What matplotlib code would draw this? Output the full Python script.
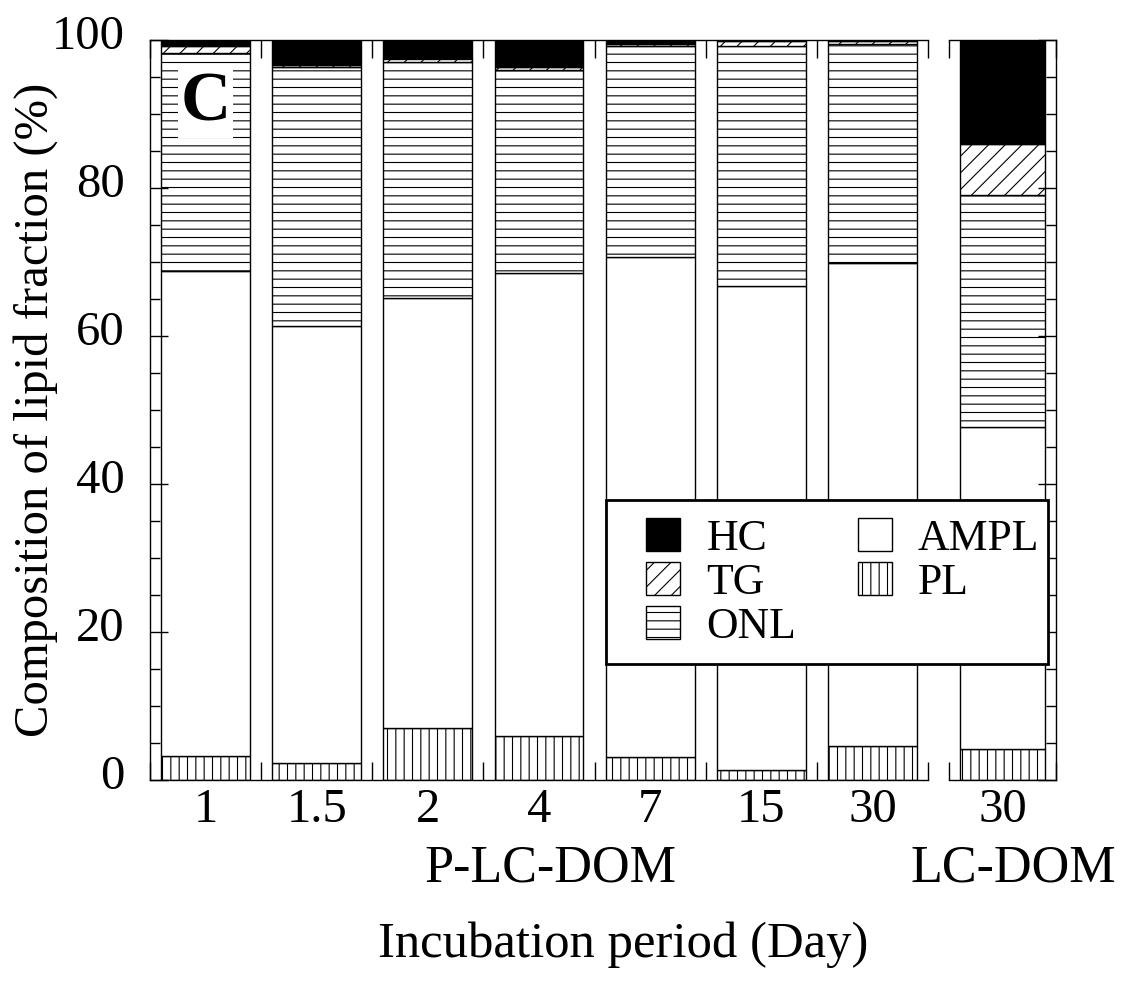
import matplotlib
matplotlib.use("Agg")
import matplotlib.pyplot as plt
import matplotlib.transforms as mtransforms
from matplotlib.patches import Patch, Rectangle
from matplotlib.ticker import MultipleLocator, FixedLocator

# ---------------- data ----------------
days_plc = ["1", "1.5", "2", "4", "7", "15", "30"]
days_lc = ["30"]
series = ["PL", "AMPL", "ONL", "TG", "HC"]
PL   = [3.2, 2.35, 7.0, 6.0, 3.1, 1.3, 4.6, 4.2]
AMPL = [65.6, 59.05, 58.1, 62.5, 67.6, 65.5, 65.3, 43.5]
ONL  = [29.4, 34.9, 31.9, 27.4, 28.45, 32.35, 29.55, 31.4]
TG   = [1.0, 0.3, 0.5, 0.5, 0.25, 0.7, 0.4, 6.9]
HC   = [0.8, 3.4, 2.5, 3.6, 0.6, 0.15, 0.15, 14.0]

plt.rcParams['font.family'] = ['Liberation Serif', 'DejaVu Serif']
plt.rcParams['hatch.color'] = 'black'
plt.rcParams['hatch.linewidth'] = 0.8

styles = {
    "PL":   dict(facecolor="white", hatch="||"),
    "AMPL": dict(facecolor="white", hatch=None),
    "ONL":  dict(facecolor="white", hatch="--"),
    "TG":   dict(facecolor="white", hatch="//"),
    "HC":   dict(facecolor="black", hatch=None),
}
values = {"PL": PL, "AMPL": AMPL, "ONL": ONL, "TG": TG, "HC": HC}

W, H = 1123, 1001
fig = plt.figure(figsize=(W / 100, H / 100), dpi=100)
fig.patch.set_facecolor("white")

def fx(px):
    return px / W

def fy(py):
    return 1 - py / H

ax1 = fig.add_axes([fx(150), fy(780), fx(928) - fx(150), fy(40) - fy(780)])
ax2 = fig.add_axes([fx(949), fy(780), fx(1056) - fx(949), fy(40) - fy(780)])

n1 = len(days_plc)
bw = 0.8

def draw(ax, idxs):
    bottoms = [0.0] * len(idxs)
    xs = list(range(len(idxs)))
    for s in series:
        vals = [values[s][i] for i in idxs]
        ax.bar(xs, vals, bw, bottom=bottoms, edgecolor="black", linewidth=1.0,
               **styles[s])
        bottoms = [b + v for b, v in zip(bottoms, vals)]

draw(ax1, list(range(n1)))
draw(ax2, [n1])

fs = 35
fs_big = 37.5
for ax, labels in ((ax1, days_plc), (ax2, days_lc)):
    ax.set_ylim(0, 100)
    ax.set_xlim(-0.5, len(labels) - 0.5)
    ax.set_xticks(range(len(labels)))
    ax.set_xticklabels(labels, fontsize=fs)
    ax.xaxis.set_minor_locator(FixedLocator([i - 0.5 for i in range(len(labels) + 1)]))
    ax.tick_params(axis="x", which="major", length=0, pad=6)
    ax.tick_params(axis="x", which="minor", direction="in", length=13, width=1.0,
                   top=True, bottom=True)
    ax.yaxis.set_major_locator(MultipleLocator(20))
    ax.yaxis.set_minor_locator(MultipleLocator(5))
    for sp in ax.spines.values():
        sp.set_linewidth(1.0)

ax1.spines["right"].set_visible(False)
ax2.spines["left"].set_visible(False)
ax1.tick_params(axis="y", which="major", direction="in", length=13, width=1.0,
                labelsize=fs, pad=18, left=True, right=False)
ax1.tick_params(axis="y", which="minor", direction="in", length=7, width=1.0,
                left=True, right=False)
ax2.tick_params(axis="y", which="major", direction="in", length=13, width=1.0,
                left=False, right=True, labelleft=False, labelright=False)
ax2.tick_params(axis="y", which="minor", direction="in", length=7, width=1.0,
                left=False, right=True)
ax1.set_yticks([0, 20, 40, 60, 80, 100])
ax1.set_yticklabels(["0", "20", "40", "60", "80", "100"])
off = mtransforms.ScaledTranslation(0, 8 / 100, fig.dpi_scale_trans)
for lab in ax1.get_yticklabels():
    lab.set_transform(lab.get_transform() + off)

ax1.set_ylabel("Composition of lipid fraction (%)", fontsize=fs)
ax1.yaxis.set_label_coords((36 - 150) / 778, 0.5)
ax1.yaxis.label.set_va("center")

# panel letter
ax1.text(0, 91.4, "C", fontsize=50, fontweight="bold", ha="center", va="center",
         bbox=dict(facecolor="white", edgecolor="none", pad=2), zorder=5)

fig.text(fx(550), fy(868), "P-LC-DOM", fontsize=fs_big, ha="center", va="center")
fig.text(fx(1013), fy(868), "LC-DOM", fontsize=fs_big, ha="center", va="center")
fig.text(fx(623), fy(945), "Incubation period (Day)", fontsize=36.5, ha="center", va="center")

# legend frame (drawn separately for exact padding)
fig.patches.append(Rectangle((fx(606), fy(664)), fx(1048) - fx(606), fy(500) - fy(664),
                             transform=fig.transFigure, facecolor="white",
                             edgecolor="black", linewidth=2.0, zorder=4))

leg_order = ["HC", "TG", "ONL", "AMPL", "PL"]
handles = [Patch(edgecolor="black", linewidth=1.0, label=s, **styles[s]) for s in leg_order]
leg = fig.legend(handles=handles, ncol=2, loc="upper left",
                 bbox_to_anchor=(fx(646), fy(518)), fontsize=31.5, frameon=False,
                 handlelength=0.78, handleheight=0.78, labelspacing=0.08,
                 columnspacing=1.4, handletextpad=0.6, borderpad=0,
                 borderaxespad=0)
leg.set_zorder(6)

fig.savefig("out.png", dpi=100, facecolor="white")
